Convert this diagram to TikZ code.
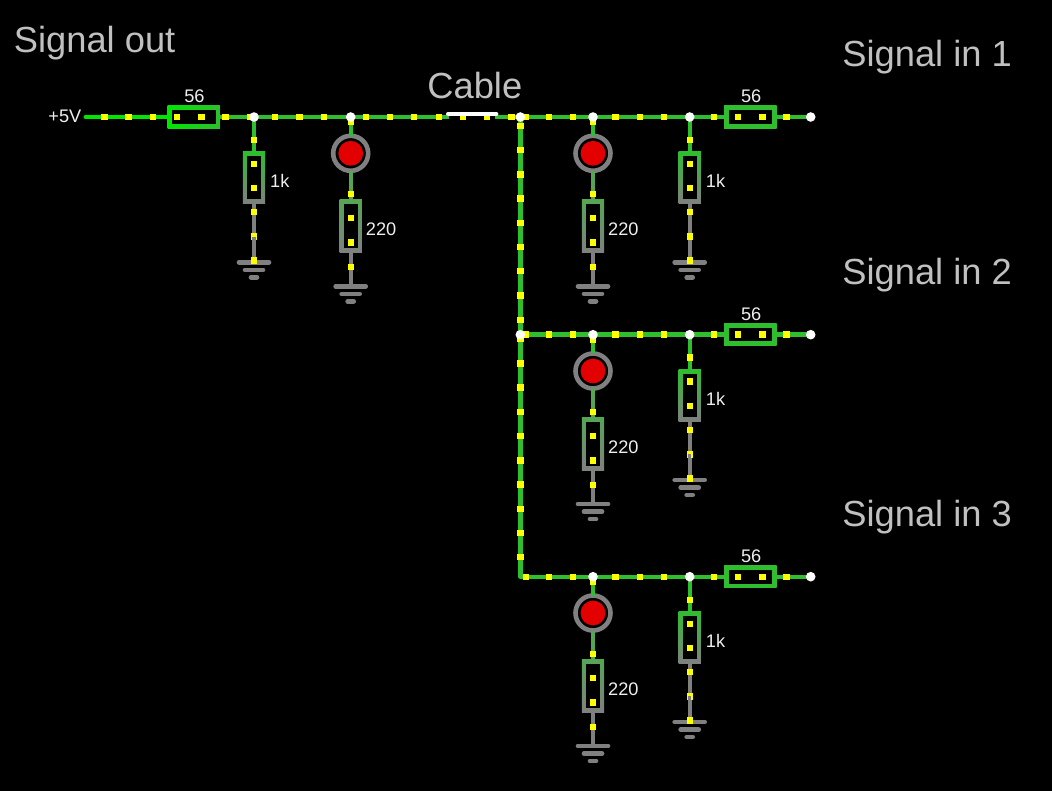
\documentclass[tikz,border=0pt]{standalone}
\usepackage{fontspec}
\setmainfont{Liberation Sans}
\definecolor{wg}{RGB}{46,190,46}
\definecolor{wb}{RGB}{0,230,0}
\definecolor{wm}{RGB}{85,165,85}
\definecolor{wgr}{RGB}{128,128,128}
\definecolor{ledred}{RGB}{226,0,0}
\definecolor{dotc}{RGB}{255,255,0}
\definecolor{bigtxt}{RGB}{192,192,192}
\definecolor{smalltxt}{RGB}{238,238,238}
\tikzset{
  wire/.style={line width=4.4pt,draw=wg},
  vbox/.style={shape=rectangle,inner sep=0pt,outer sep=0pt,minimum width=22.4pt,minimum height=52.4pt},
  hbox/.style={shape=rectangle,inner sep=0pt,outer sep=0pt,minimum width=52.4pt,minimum height=22.4pt},
  bigl/.style={anchor=base west,inner sep=0pt,text=bigtxt,font=\fontsize{36.3}{36}\selectfont},
  smalll/.style={anchor=base west,inner sep=0pt,text=smalltxt,font=\fontsize{18.2}{18}\selectfont},
  smallc/.style={anchor=base,inner sep=0pt,text=smalltxt,font=\fontsize{18.2}{18}\selectfont},
  gbar/.style={line width=4.7pt,line cap=round,draw=wgr},
  ledn/.style={shape=circle,inner sep=0pt,outer sep=0pt,minimum size=35pt,draw=wgr,line width=4.6pt,fill=black},
}
\newcommand{\sq}[2]{\fill[dotc] (#1-3.2,#2-3.2) rectangle (#1+3.2,#2+3.2);}
\newcommand{\jct}[1]{\fill[white] (#1) circle (4.8pt);}
\newcommand{\inner}[1]{\fill[black] ([xshift=4.4pt,yshift=-4.4pt]#1.north west) rectangle ([xshift=-4.4pt,yshift=4.4pt]#1.south east);}
% ground: id, x, y of top bar
\newcommand{\gnd}[3]{%
  \coordinate (#1) at (#2,#3);
  \draw[gbar] (#2-15,#3) -- (#2+15,#3);
  \draw[gbar] (#2-9,#3+7.6) -- (#2+9,#3+7.6);
  \draw[gbar] (#2-3,#3+15) -- (#2+3,#3+15);
}
% horizontal 56 resistor: id, x, y, left colour, right colour, dot offsets
\newcommand{\hres}[7]{%
  \node[hbox,shade,shading=axis,left color=#4,right color=#5] (#1) at (#2,#3) {};
  \inner{#1}
  \sq{#2+#6}{#3}\sq{#2+#7}{#3}
  \node[smallc] (#1l) at (#2+0.8,#3-14) {56};
}
% 1k branch: id, x, main line y, notch
\newcommand{\kbranch}[4]{%
  \node[vbox,shade,shading=axis,top color=wg,bottom color=wgr] (#1r) at (#2,#3+60.7) {};
  \inner{#1r}
  \gnd{#1g}{#2}{#3+145.3}
  \draw[wire] (#1j) -- (#1r.north);
  \draw[wire,wgr] (#1r.south) -- (#1g);
  \foreach \d in {23,47,71,95.3,119.7,143.7} {\sq{#2}{#3+\d}}
  #4
  \node[smalll] (#1l) at (#2+16,#3+71) {1k};
}
% LED branch: id, x, main line y
\newcommand{\lbranch}[3]{%
  \node[ledn] (#1d) at (#2,#3+36.3) {};
  \fill[ledred] (#1d) circle (12.4pt);
  \node[vbox,shade,shading=axis,top color=wm,bottom color=wgr] (#1r) at (#2,#3+109.2) {};
  \inner{#1r}
  \gnd{#1g}{#2}{#3+169.3}
  \draw[wire] (#1j) -- (#1d.north);
  \draw[wire,wm] (#1d.south) -- (#1r.north);
  \draw[wire,wgr] (#1r.south) -- (#1g);
  \foreach \d in {4.7,77.3,101.3,125.7,150} {\sq{#2}{#3+\d}}
  \node[smalll] (#1l) at (#2+15,#3+119) {220};
}
\begin{document}
\begin{tikzpicture}[x=1pt,y=-1pt]
\fill[black] (-1,-1) rectangle (1054,792);
% junctions and ends
\coordinate (start) at (86,117);
\coordinate (aj) at (254.3,117);
\coordinate (bj) at (351,117);
\coordinate (hub) at (520.6,117);
\coordinate (cj) at (593.3,117);
\coordinate (dj) at (690,117);
\coordinate (out1) at (811,117);
\coordinate (hub2) at (520.6,334.7);
\coordinate (ej) at (593.3,334.7);
\coordinate (fj) at (690,334.7);
\coordinate (out2) at (811,334.7);
\coordinate (corner) at (520.6,576.7);
\coordinate (gj) at (593.3,576.7);
\coordinate (hj) at (690,576.7);
\coordinate (out3) at (811,576.7);
\coordinate (cabL) at (449,117);
\coordinate (cabR) at (495,117);
% series resistors
\hres{ra}{194}{117}{wb}{wg}{-16.5}{7.6}
\hres{rb}{750.7}{117}{wg}{wg}{-12.3}{12}
\hres{rc}{750.7}{334.7}{wg}{wg}{-12.3}{12}
\hres{rd}{750.7}{576.7}{wg}{wg}{-12.3}{12}
% main wires
\draw[wire,wb,line cap=round] (start) -- (ra.west);
\draw[wire] (ra.east) -- (cabL);
\draw[wire] (cabR) -- (rb.west);
\draw[wire] (rb.east) -- (out1);
\draw[wire] (hub2) -- (rc.west);
\draw[wire] (rc.east) -- (out2);
\draw[wire,line join=round] (hub) -- (corner) -- (rd.west);
\draw[wire] (rd.east) -- (out3);
% branches
\kbranch{a}{254.3}{117}{\draw[line width=3.4pt,wgr] (254.3,236.7) -- (254.3,257);}
\lbranch{b}{351}{117}
\lbranch{c}{593.3}{117}
\kbranch{d}{690}{117}{}
\lbranch{e}{593.3}{334.7}
\kbranch{f}{690}{334.7}{\draw[line width=3.4pt,wgr] (690,454.4) -- (690,475);}
\lbranch{g}{593.3}{576.7}
\kbranch{h}{690}{576.7}{\draw[line width=3.4pt,wgr] (690,696.4) -- (690,717);}
% signal dots
\foreach \x in {104.7,128.9,153,225.7,250,275,299.7,324,366,390,414.3,439,463,487.3,511.7,526,549.3,573.5,615.7,640,664.3,714.3,786.7} {\sq{\x}{117}}
\foreach \x in {526,549.3,573.5,615.7,640,664.3,714.3,786.7} {\sq{\x}{334.7}\sq{\x}{576.7}}
\foreach \y in {126,150.2,174.4,198.6,222.8,247,271.3,295.6,319.8,339.3,363.5,387.7,412,436.1,460.3,484.5,508.7,532.9,557.1} {\sq{520.6}{\y}}
% cable
\draw[line width=4.4pt,white,line cap=round] (448.5,114) -- (496.5,114);
% junction dots
\foreach \j in {aj,bj,hub,cj,dj,out1,hub2,ej,fj,out2,gj,hj,out3} {\jct{\j}}
% labels
\node[bigl] (t1) at (14,53) {Signal out};
\node[bigl] (t2) at (427.5,99) {Cable};
\node[bigl] (t3) at (842.5,67) {Signal in 1};
\node[bigl] (t4) at (842.5,285) {Signal in 2};
\node[bigl] (t5) at (842.5,526) {Signal in 3};
\node[smalll] (t6) at (48.5,123) {+5V};
\pgfresetboundingbox
\useasboundingbox (0.3,0) rectangle (1052.3,791);
\end{tikzpicture}
\end{document}
